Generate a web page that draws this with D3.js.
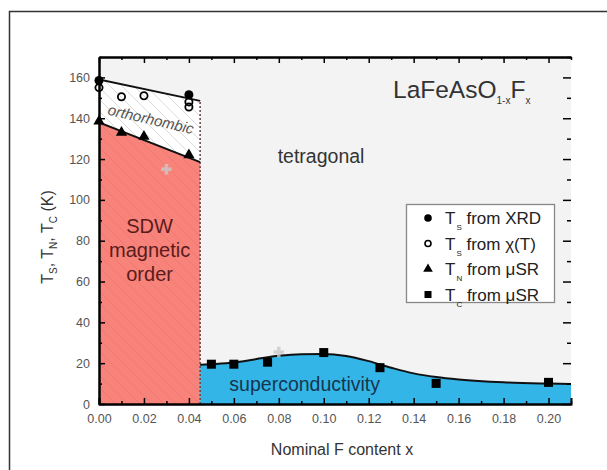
<!DOCTYPE html>
<html>
<head>
<meta charset="utf-8">
<script src="https://cdn.jsdelivr.net/npm/d3@7"></script>
<style>
  body { margin: 0; background: #fff; }
  text { font-family: "Liberation Sans", Arial, sans-serif; }
</style>
</head>
<body>
<svg id="chart" width="607" height="470"></svg>
<script>
// data
const tsXrdX = [0, 0.04];
const tsXrdY = [158.5, 151.5];
const tsChiX = [0, 0.01, 0.02, 0.04, 0.04];
const tsChiY = [155, 150.5, 151, 148, 145.5];
const tnX = [0, 0.01, 0.02, 0.04];
const tnY = [138.5, 133, 131, 122];
const tcX = [0.05, 0.06, 0.075, 0.10, 0.125, 0.15, 0.20];
const tcY = [19.5, 19.5, 20.5, 25.2, 17.8, 10.1, 10.6];
const greyX = [0.03, 0.08];
const greyY = [115, 25.5];

// phase boundaries
const tsLineX = [0, 0.045];
const tsLineY = [159, 148.5];
const tnLineX = [0, 0.045];
const tnLineY = [138, 118.5];
const scX = [0.045, 0.05, 0.06, 0.07, 0.08, 0.09, 0.10, 0.11, 0.12, 0.13, 0.14, 0.15, 0.16, 0.18, 0.20, 0.21];
const scY = [19.2, 19.5, 20.3, 22, 23.6, 24.4, 24.5, 23.5, 21, 17.8, 15, 13.2, 12, 10.6, 10, 9.8];
const xBoundary = 0.045;

const xTicks = [0, 0.02, 0.04, 0.06, 0.08, 0.10, 0.12, 0.14, 0.16, 0.18, 0.20];
const xMinor = [0.01, 0.03, 0.05, 0.07, 0.09, 0.11, 0.13, 0.15, 0.17, 0.19, 0.21];
const yTicks = [0, 20, 40, 60, 80, 100, 120, 140, 160];
const yMinor = [10, 30, 50, 70, 90, 110, 130, 150, 170];

const legendLabels = [
  {sub: "S", rest: " from XRD", mark: "dot"},
  {sub: "S", rest: " from \u03c7(T)", mark: "ring"},
  {sub: "N", rest: " from \u03bcSR", mark: "tri"},
  {sub: "C", rest: " from \u03bcSR", mark: "sq"}
];

const PLOT = {left: 99, right: 571, top: 57, bottom: 404};

const svg = d3.select("#chart");

// outer frame (cut off at right and bottom)
svg.append("path")
  .attr("d", "M9.5,470 V11.5 H607")
  .attr("fill", "none")
  .attr("stroke", "#333")
  .attr("stroke-width", 1.5);

const x = d3.scaleLinear().domain([0, 0.21]).range([PLOT.left, PLOT.right]);
const y = d3.scaleLinear().domain([0, 170]).range([PLOT.bottom, PLOT.top]);

const defs = svg.append("defs");
defs.append("clipPath").attr("id", "plotclip")
  .append("rect")
  .attr("x", PLOT.left).attr("y", PLOT.top)
  .attr("width", PLOT.right - PLOT.left).attr("height", PLOT.bottom - PLOT.top);

function hatch(id, bg, stroke) {
  const p = defs.append("pattern")
    .attr("id", id)
    .attr("patternUnits", "userSpaceOnUse")
    .attr("width", 12).attr("height", 12);
  p.append("rect").attr("width", 12).attr("height", 12).attr("fill", bg);
  p.append("path")
    .attr("d", "M0,0 L12,12 M-6,6 L6,18 M6,-6 L18,6")
    .attr("stroke", stroke).attr("stroke-width", 0.8);
}
hatch("redhatch", "#f8837b", "#ec7670");
hatch("whitehatch", "#ffffff", "#d2d2d2");

const g = svg.append("g").attr("clip-path", "url(#plotclip)");

// background
g.append("rect")
  .attr("x", PLOT.left).attr("y", PLOT.top)
  .attr("width", PLOT.right - PLOT.left).attr("height", PLOT.bottom - PLOT.top)
  .attr("fill", "#f3f3f3");

const pts = (xs, ys) => xs.map((d, i) => [d, ys[i]]);
const area = d3.area().x(d => x(d[0])).y0(d => y(d[2])).y1(d => y(d[1]));

// orthorhombic region
const ortho = tsLineX.map((d, i) => [d, tsLineY[i], tnLineY[i]]);
g.append("path").attr("d", area(ortho)).attr("fill", "url(#whitehatch)");

// SDW region
const sdw = tnLineX.map((d, i) => [d, tnLineY[i], 0]);
g.append("path").attr("d", area(sdw)).attr("fill", "url(#redhatch)");

// superconducting dome
const sc = scX.map((d, i) => [d, scY[i], 0]);
g.append("path")
  .attr("d", area.curve(d3.curveMonotoneX)(sc))
  .attr("fill", "#33b5e7");

// dotted boundary
g.append("line")
  .attr("x1", x(xBoundary)).attr("x2", x(xBoundary))
  .attr("y1", y(0)).attr("y2", y(148.5))
  .attr("stroke", "#6a4444").attr("stroke-width", 1.5)
  .attr("stroke-dasharray", "2,2");

const line = d3.line().x(d => x(d[0])).y(d => y(d[1]));
g.append("path").attr("d", line(pts(tsLineX, tsLineY)))
  .attr("fill", "none").attr("stroke", "#111").attr("stroke-width", 2);
g.append("path").attr("d", line(pts(tnLineX, tnLineY)))
  .attr("fill", "none").attr("stroke", "#111").attr("stroke-width", 2);
g.append("path").attr("d", line.curve(d3.curveMonotoneX)(pts(scX, scY)))
  .attr("fill", "none").attr("stroke", "#111").attr("stroke-width", 2);

// region labels
g.append("text").attr("x", x(0.0988)).attr("y", y(118))
  .attr("font-size", 19.5).attr("fill", "#333").attr("text-anchor", "middle")
  .text("tetragonal");
["SDW", "magnetic", "order"].forEach((t, i) => {
  g.append("text").attr("x", x(0.0225)).attr("y", y(84) + i * 24)
    .attr("font-size", 20).attr("fill", "#5a1c1c").attr("text-anchor", "middle")
    .text(t);
});
g.append("text").attr("x", x(0.058)).attr("y", y(6.5))
  .attr("font-size", 19.5).attr("fill", "#17354f")
  .text("superconductivity");
g.append("text")
  .attr("transform", `translate(${x(0.0225)},${y(137)}) rotate(13)`)
  .attr("font-size", 15).attr("font-style", "italic").attr("fill", "#555")
  .attr("text-anchor", "middle")
  .text("orthorhombic");

// markers
const mk = svg.append("g");
mk.selectAll(".grey").data(pts(greyX, greyY)).join("path")
  .attr("d", d3.symbol(d3.symbolCross, 60)())
  .attr("transform", d => `translate(${x(d[0])},${y(d[1])})`)
  .attr("fill", "#c9c9c9").attr("opacity", 0.8);
mk.selectAll(".tc").data(pts(tcX, tcY)).join("rect")
  .attr("x", d => x(d[0]) - 4.5).attr("y", d => y(d[1]) - 4.5)
  .attr("width", 9).attr("height", 9).attr("fill", "#000");
mk.selectAll(".tn").data(pts(tnX, tnY)).join("path")
  .attr("d", d3.symbol(d3.symbolTriangle, 55)())
  .attr("transform", d => `translate(${x(d[0])},${y(d[1])})`)
  .attr("fill", "#000");
mk.selectAll(".chi").data(pts(tsChiX, tsChiY)).join("circle")
  .attr("cx", d => x(d[0])).attr("cy", d => y(d[1])).attr("r", 3.6)
  .attr("fill", "none").attr("stroke", "#000").attr("stroke-width", 1.8);
mk.selectAll(".xrd").data(pts(tsXrdX, tsXrdY)).join("circle")
  .attr("cx", d => x(d[0])).attr("cy", d => y(d[1])).attr("r", 4.5)
  .attr("fill", "#000");

// axes
function styleAxis(sel) {
  sel.select(".domain").attr("stroke", "#000").attr("stroke-width", 2);
  sel.selectAll(".tick line").attr("stroke", "#000").attr("stroke-width", 1.5);
  sel.selectAll(".tick text").attr("fill", "#555").attr("font-size", 12.5)
    .attr("font-family", "Liberation Sans, Arial, sans-serif");
}
const fmtX = d3.format(".2f");

svg.append("g").attr("transform", `translate(0,${PLOT.bottom})`)
  .call(d3.axisBottom(x).tickValues(xTicks).tickFormat(fmtX).tickSize(-6).tickPadding(10))
  .call(styleAxis);
svg.append("g").attr("transform", `translate(0,${PLOT.bottom})`)
  .call(d3.axisBottom(x).tickValues(xMinor).tickFormat("").tickSize(-3).tickSizeOuter(0))
  .call(styleAxis);
svg.append("g").attr("transform", `translate(0,${PLOT.top})`)
  .call(d3.axisTop(x).tickValues(xTicks).tickFormat("").tickSize(-6).tickSizeOuter(0))
  .call(styleAxis);
svg.append("g").attr("transform", `translate(0,${PLOT.top})`)
  .call(d3.axisTop(x).tickValues(xMinor).tickFormat("").tickSize(-3).tickSizeOuter(0))
  .call(styleAxis);

svg.append("g").attr("transform", `translate(${PLOT.left},0)`)
  .call(d3.axisLeft(y).tickValues(yTicks).tickSize(-6).tickPadding(9).tickSizeOuter(0))
  .call(styleAxis);
svg.append("g").attr("transform", `translate(${PLOT.left},0)`)
  .call(d3.axisLeft(y).tickValues(yMinor).tickFormat("").tickSize(-3).tickSizeOuter(0))
  .call(styleAxis);

// right side ticks only (axis line is cropped away)
const rt = svg.append("g").attr("transform", `translate(${PLOT.right},0)`)
  .call(d3.axisRight(y).tickValues(yTicks).tickFormat("").tickSize(-8).tickSizeOuter(0))
  .call(styleAxis);
rt.select(".domain").remove();
const rm = svg.append("g").attr("transform", `translate(${PLOT.right},0)`)
  .call(d3.axisRight(y).tickValues(yMinor).tickFormat("").tickSize(-4).tickSizeOuter(0))
  .call(styleAxis);
rm.select(".domain").remove();

// axis titles
svg.append("text").attr("x", (PLOT.left + PLOT.right) / 2 + 7).attr("y", 455)
  .attr("text-anchor", "middle").attr("font-size", 16).attr("fill", "#333")
  .text("Nominal F content x");

const yl = svg.append("text")
  .attr("transform", `translate(53,237) rotate(-90)`)
  .attr("text-anchor", "middle").attr("font-size", 16).attr("fill", "#333");
[["S", ", "], ["N", ", "], ["C", " (K)"]].forEach(([s, r]) => {
  yl.append("tspan").text("T");
  yl.append("tspan").attr("font-size", 10).attr("dy", 4).text(s);
  yl.append("tspan").attr("dy", -4).text(r);
});

// compound name
const title = svg.append("text").attr("x", 393).attr("y", 98)
  .attr("font-size", 24.5).attr("fill", "#333");
title.append("tspan").text("LaFeAsO");
title.append("tspan").attr("font-size", 10).attr("dy", 6).text("1-x");
title.append("tspan").attr("dy", -6).text("F");
title.append("tspan").attr("font-size", 10).attr("dy", 6).text("x");

// legend
const lg = svg.append("g");
lg.append("rect").attr("x", 406.5).attr("y", 204.5).attr("width", 148).attr("height", 98)
  .attr("fill", "#fff").attr("stroke", "#888").attr("stroke-width", 1.3);
legendLabels.forEach((d, i) => {
  const cy = 218 + i * 25.5;
  const cx = 428;
  if (d.mark === "dot") lg.append("circle").attr("cx", cx).attr("cy", cy).attr("r", 3.8).attr("fill", "#000");
  if (d.mark === "ring") lg.append("circle").attr("cx", cx).attr("cy", cy).attr("r", 3).attr("fill", "none")
    .attr("stroke", "#000").attr("stroke-width", 1.6);
  if (d.mark === "tri") lg.append("path").attr("d", d3.symbol(d3.symbolTriangle, 40)())
    .attr("transform", `translate(${cx},${cy})`).attr("fill", "#000");
  if (d.mark === "sq") lg.append("rect").attr("x", cx - 3.5).attr("y", cy - 3.5).attr("width", 7).attr("height", 7).attr("fill", "#000");
  const t = lg.append("text").attr("x", 445).attr("y", cy + 6).attr("font-size", 17).attr("fill", "#222");
  t.append("tspan").text("T");
  t.append("tspan").attr("font-size", 8).attr("dx", 1).attr("dy", 6).text(d.sub);
  t.append("tspan").attr("dy", -6).text(d.rest);
});
</script>
</body>
</html>
